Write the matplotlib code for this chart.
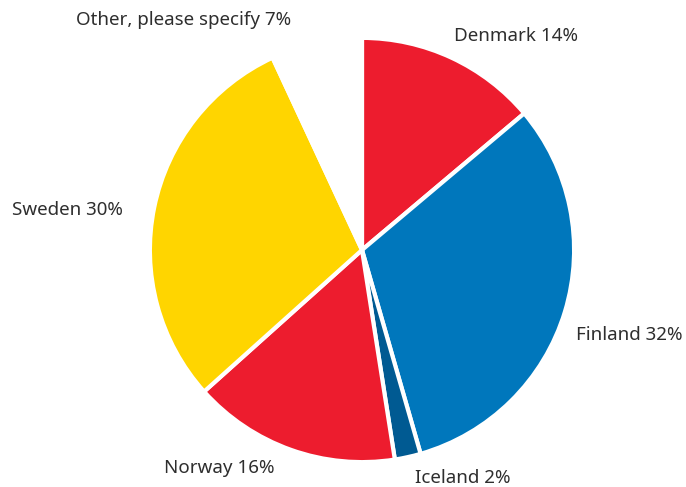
import matplotlib.pyplot as plt

labels = ['Denmark', 'Finland', 'Iceland', 'Norway', 'Sweden', 'Other, please specify']
values = [14, 32, 2, 16, 30, 7]
colors = ['#ED1C2E', '#0077BC', '#005A92', '#ED1C2E', '#FFD500', '#FFFFFF']

# label anchor points (pie radius units), placed by hand
label_pos = [(0.733, 1.019), (1.271, -0.405), (0.481, -1.086),
             (-0.681, -1.038), (-1.405, 0.190), (-0.848, 1.095)]

fig = plt.figure(figsize=(6.86, 4.87), dpi=100)
ax = fig.add_axes([0, 0, 1, 1])
ax.pie(values, colors=colors, startangle=90, counterclock=False,
       radius=1.01, center=(0, 0),
       wedgeprops=dict(edgecolor='white', linewidth=3))

for lab, v, (x, y) in zip(labels, values, label_pos):
    ax.text(x, y, f'{lab} {v}%', ha='center', va='center',
            fontsize=13.5, color='#2e2e2e', family='Noto Sans')

ax.set_xlim(-362 / 210, (686 - 362) / 210)
ax.set_ylim(-237 / 210, 250 / 210)
ax.set_aspect('equal')
ax.axis('off')

fig.savefig('out.png', dpi=100)
